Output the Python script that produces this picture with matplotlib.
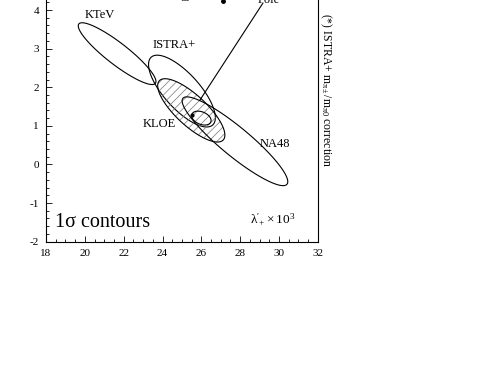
import numpy as np
import matplotlib
matplotlib.use("Agg")
import matplotlib.pyplot as plt
from matplotlib.patches import Polygon

plt.rcParams['font.family'] = ['Liberation Serif', 'DejaVu Serif']
plt.rcParams['mathtext.fontset'] = 'stix'
plt.rcParams['hatch.linewidth'] = 0.5
plt.rcParams['axes.unicode_minus'] = False

# 1 sigma contours: centre, sigma_x, sigma_y, correlation
names = ['KTeV', 'ISTRA+', 'KLOE', 'NA48', 'small']
cx = [21.66, 25.0, 25.48, 27.73, 26.0]
cy = [2.87, 1.90, 1.40, 0.60, 1.20]
sx = [2.00, 1.72, 1.73, 2.72, 0.50]
sy = [0.80, 0.93, 0.82, 1.15, 0.18]
rho = [-0.90, -0.74, -0.78, -0.91, -0.35]
hatched = [False, False, True, False, False]

pole = (25.52, 1.28)
pole_line_x = [25.93, 29.17]
pole_line_y = [1.67, 4.18]

labels = ['KTeV', 'ISTRA+', 'KLOE', 'NA48']
label_x = [20.0, 23.46, 23.0, 29.0]
label_y = [3.79, 3.02, 0.97, 0.45]


def ellipse(x0, y0, s1, s2, r, n=300):
    cov = np.array([[s1 * s1, r * s1 * s2], [r * s1 * s2, s2 * s2]])
    L = np.linalg.cholesky(cov)
    t = np.linspace(0, 2 * np.pi, n)
    pts = L @ np.vstack([np.cos(t), np.sin(t)])
    return np.column_stack([pts[0] + x0, pts[1] + y0])


fig = plt.figure(figsize=(4.97, 3.84), dpi=100)
ax = fig.add_axes([0.0926, 0.3708, 0.547, 0.7036])

for i in range(len(names)):
    xy = ellipse(cx[i], cy[i], sx[i], sy[i], rho[i])
    if hatched[i]:
        ax.add_patch(Polygon(xy, closed=True, fill=False, hatch='////',
                             edgecolor='#777777', linewidth=0))
    ax.add_patch(Polygon(xy, closed=True, fill=False, edgecolor='black',
                         linewidth=0.8))

ax.plot(pole[0], pole[1], 'o', color='black', markersize=2)
ax.plot(pole_line_x, pole_line_y, color='black', linewidth=0.8)

for lab, x, y in zip(labels, label_x, label_y):
    ax.text(x, y, lab, fontsize=9, va='baseline', ha='left')

# top legend row, mostly cut off by the frame edge
ax.text(24.9, 4.31, 'gy', fontsize=9, va='baseline', ha='left')
ax.plot(27.1, 4.24, 'o', color='black', markersize=2.5)
ax.text(28.9, 4.18, 'Pole', fontsize=9, va='baseline', ha='left')

ax.text(18.46, -1.62, '1σ contours', fontsize=14.5, va='baseline')
ax.text(28.5, -1.52, r"$\mathregular{\lambda'_{+}\times10^{3}}$",
        fontsize=9.5, va='baseline')

fig.text(0.656, 0.966,
         r'(*) ISTRA+ m$\mathregular{_{\pi\pm}}$/m$\mathregular{_{\pi 0}}$ correction',
         rotation=-90, fontsize=8.5, va='top', ha='center')

ax.set_xlim(18, 32)
ax.set_ylim(-2, 5)
ax.set_xticks(np.arange(18, 33, 2))
ax.set_xticks(np.arange(18, 32.01, 0.5), minor=True)
ax.set_yticks(np.arange(-2, 5, 1))
ax.set_yticks(np.arange(-2, 5.01, 0.2), minor=True)
ax.tick_params(which='both', direction='in', labelsize=8, width=0.6)
ax.tick_params(which='major', length=4, pad=5)
ax.tick_params(which='minor', length=2)
for s in ax.spines.values():
    s.set_linewidth(0.8)

fig.savefig('out.png', dpi=100)
